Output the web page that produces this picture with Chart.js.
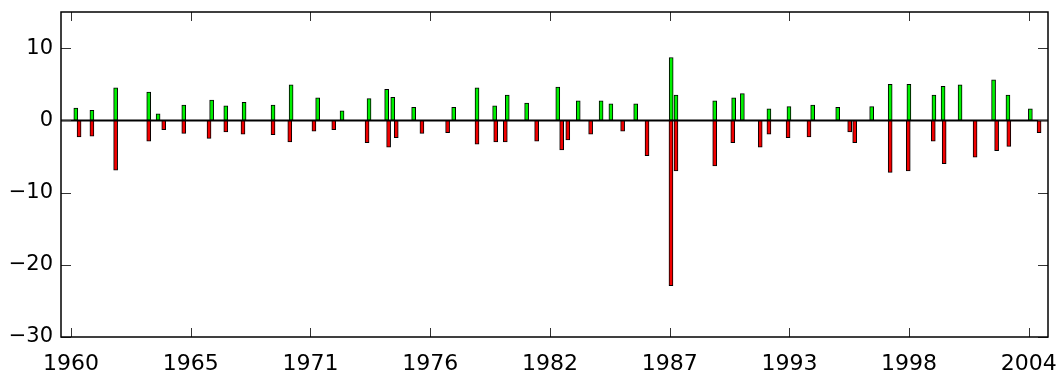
<!DOCTYPE html>
<html lang="en">
<head>
  <meta charset="UTF-8" />
  <title>Bar events</title>
  <script src="https://cdn.jsdelivr.net/npm/chart.js"></script>
  <style>
    html, body { margin: 0; padding: 0; background: #fff; }
    #wrap { width: 1059px; height: 371px; }
  </style>
</head>
<body>
<div id="wrap"><canvas id="grafico"></canvas></div>

<script>
// positive events (green), decimal year + value
const greenYears = [1960.22, 1960.96, 1962.05, 1963.57, 1964.0, 1965.18, 1966.46, 1967.11, 1967.95, 1969.28,
  1970.11, 1971.33, 1972.45, 1973.69, 1974.50, 1974.78, 1975.74, 1977.58, 1978.65, 1979.46,
  1980.04, 1980.93, 1982.36, 1983.30, 1984.35, 1984.80, 1985.94, 1987.57, 1987.79, 1989.57,
  1990.44, 1990.84, 1992.06, 1992.98, 1994.07, 1995.22, 1996.78, 1997.63, 1998.49, 1999.64,
  2000.06, 2000.84, 2002.38, 2003.04, 2004.07];
const greenValues = [1.7, 1.4, 4.5, 3.9, 0.9, 2.1, 2.8, 2.0, 2.5, 2.1,
  4.9, 3.1, 1.3, 3.0, 4.3, 3.2, 1.8, 1.8, 4.5, 2.0,
  3.5, 2.4, 4.6, 2.7, 2.7, 2.3, 2.3, 8.7, 3.5, 2.7,
  3.1, 3.7, 1.6, 1.9, 2.1, 1.8, 1.9, 5.0, 5.0, 3.5,
  4.7, 4.9, 5.6, 3.5, 1.6];

// negative events (red)
const redYears = [1960.37, 1960.96, 1962.05, 1963.57, 1964.26, 1965.18, 1966.34, 1967.11, 1967.90, 1969.28,
  1970.05, 1971.16, 1972.07, 1973.60, 1974.59, 1974.94, 1976.12, 1977.30, 1978.65, 1979.51,
  1979.95, 1981.39, 1982.54, 1982.82, 1983.87, 1985.34, 1986.46, 1987.56, 1987.79, 1989.57,
  1990.40, 1991.66, 1992.06, 1992.94, 1993.90, 1995.77, 1996.00, 1997.63, 1998.46, 1999.61,
  2000.11, 2001.53, 2002.52, 2003.08, 2004.47];
const redValues = [-2.3, -2.2, -6.9, -2.9, -1.3, -1.8, -2.5, -1.6, -1.9, -2.0,
  -3.0, -1.5, -1.3, -3.1, -3.7, -2.4, -1.8, -1.7, -3.3, -3.0,
  -3.0, -2.9, -4.1, -2.7, -1.9, -1.5, -4.9, -22.9, -7.0, -6.3,
  -3.1, -3.7, -1.9, -2.4, -2.3, -1.6, -3.1, -7.2, -7.0, -2.9,
  -6.0, -5.1, -4.2, -3.6, -1.7];

const xTickValues = [1960, 1965.5, 1971, 1976.5, 1982, 1987.5, 1993, 1998.5, 2004];
const xTickLabels = ['1960', '1965', '1971', '1976', '1982', '1987', '1993', '1998', '2004'];
const yTickValues = [-30, -20, -10, 0, 10];

function puntos(xs, ys) {
  return xs.map((x, i) => ({ x: x, y: ys[i] }));
}

// marco tipo matlab: caja, ticks hacia dentro y linea del cero
const marco = {
  id: 'marco',
  afterDatasetsDraw(chart) {
    const { ctx, chartArea: a, scales } = chart;
    const x = scales.x, y = scales.y;
    const linea = (x1, y1, x2, y2) => { ctx.beginPath(); ctx.moveTo(x1, y1); ctx.lineTo(x2, y2); ctx.stroke(); };
    ctx.save();
    ctx.strokeStyle = '#000';
    ctx.lineWidth = 1.8;
    const y0 = Math.round(y.getPixelForValue(0)) + 0.5;
    linea(a.left, y0, a.right, y0);

    ctx.lineWidth = 1;
    ctx.strokeStyle = '#333';
    xTickValues.forEach(v => {
      const px = Math.round(x.getPixelForValue(v)) + 0.5;
      linea(px, a.bottom, px, a.bottom - 9);
      linea(px, a.top, px, a.top + 9);
    });
    yTickValues.forEach(v => {
      const py = Math.round(y.getPixelForValue(v)) + 0.5;
      linea(a.left, py, a.left + 10, py);
      linea(a.right, py, a.right - 10, py);
    });

    ctx.strokeStyle = '#000';
    ctx.lineWidth = 1.5;
    ctx.strokeRect(a.left, a.top, a.right - a.left, a.bottom - a.top);
    ctx.restore();
  }
};

const fuente = { family: '"DejaVu Sans", sans-serif', size: 21 };

new Chart(document.getElementById('grafico'), {
  type: 'bar',
  data: {
    datasets: [
      {
        label: 'positivos',
        data: puntos(greenYears, greenValues),
        backgroundColor: '#00f000',
        borderColor: '#000',
        borderWidth: 1,
        borderSkipped: false,
        barThickness: 4,
        grouped: false
      },
      {
        label: 'negativos',
        data: puntos(redYears, redValues),
        backgroundColor: '#f00000',
        borderColor: '#000',
        borderWidth: 1,
        borderSkipped: false,
        barThickness: 4,
        grouped: false
      }
    ]
  },
  options: {
    responsive: true,
    maintainAspectRatio: false,
    animation: false,
    layout: { padding: { top: 12, right: 11, left: 0, bottom: 0 } },
    plugins: {
      legend: { display: false },
      tooltip: { enabled: false }
    },
    scales: {
      x: {
        type: 'linear',
        min: 1959.54,
        max: 2004.88,
        offset: false,
        grid: { display: false, drawTicks: false },
        border: { display: false },
        afterBuildTicks: s => { s.ticks = xTickValues.map(v => ({ value: v })); },
        afterFit: s => { s.height = 34; s.paddingLeft = 0; s.paddingRight = 0; },
        ticks: {
          autoSkip: false,
          maxRotation: 0,
          padding: 14,
          color: '#000',
          font: { family: fuente.family, size: 22 },
          callback: (v, i) => xTickLabels[i]
        }
      },
      y: {
        min: -30,
        max: 15,
        grid: { display: false, drawTicks: false },
        border: { display: false },
        afterBuildTicks: s => { s.ticks = yTickValues.map(v => ({ value: v })); },
        afterFit: s => { s.width = 61; s.paddingTop = 0; s.paddingBottom = 0; },
        ticks: {
          padding: 8,
          color: '#000',
          font: fuente,
          callback: v => v < 0 ? '\u2212' + Math.abs(v) : String(v)
        }
      }
    }
  },
  plugins: [marco]
});
</script>
</body>
</html>
